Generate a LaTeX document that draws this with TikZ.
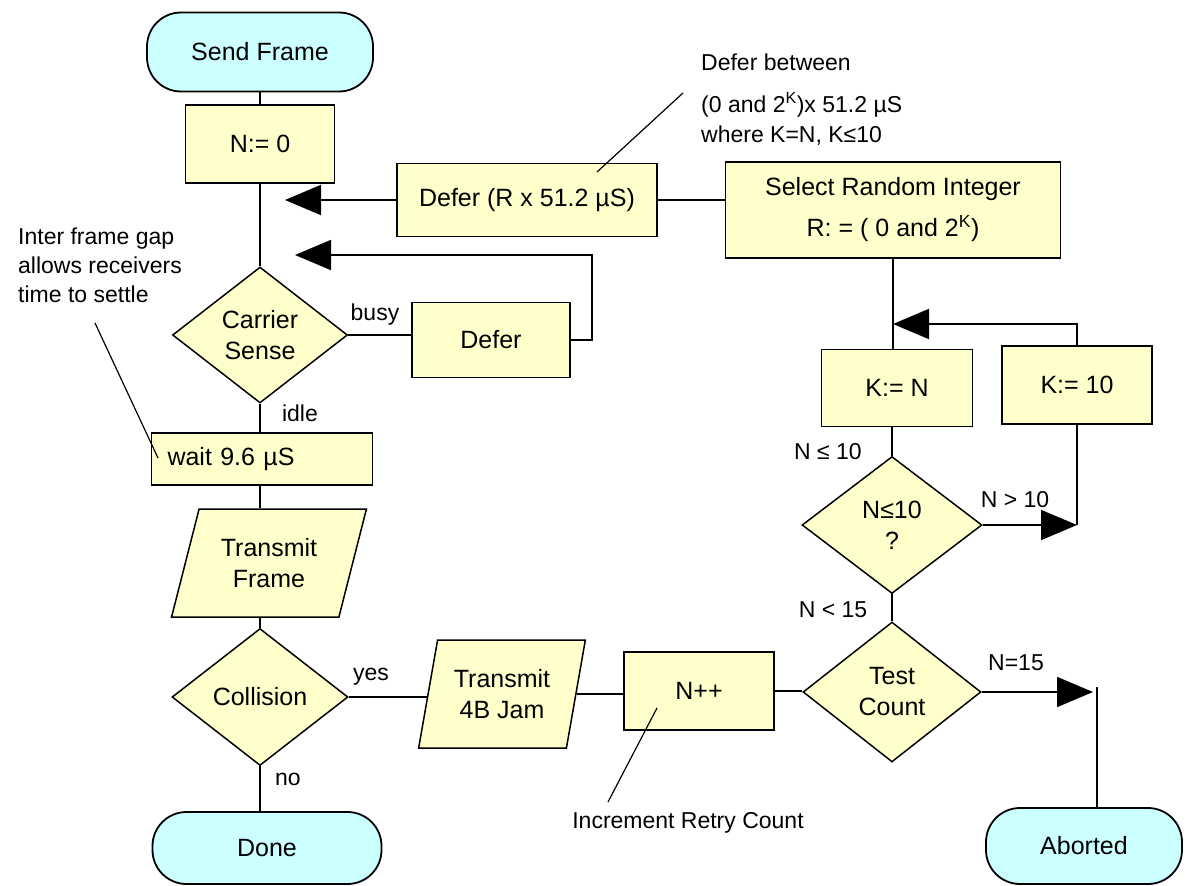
\documentclass[tikz,border=0pt]{standalone}
\usepackage{fontspec}
\setmainfont{Liberation Sans}
\usetikzlibrary{shapes.geometric,arrows.meta}
\definecolor{boxyellow}{RGB}{255,255,204}
\definecolor{termcyan}{RGB}{204,255,255}
\begin{document}
\begin{tikzpicture}[x=1pt,y=-1pt,
  every node/.style={font=\fontsize{25}{31}\selectfont, inner sep=0pt},
  procbox/.style={draw, line width=1.8pt, fill=boxyellow, align=center},
  term/.style={draw, line width=1.8pt, fill=termcyan, rounded corners=34pt, align=center},
  decision/.style={draw, line width=1.5pt, fill=boxyellow, diamond, align=center},
  io/.style={draw, line width=1.5pt, fill=boxyellow, trapezium, trapezium stretches=true, align=center},
  conn/.style={line width=1.8pt},
  arr/.style={line width=1.8pt, -{Triangle[length=36pt,width=30pt]}},
  lbl/.style={font=\fontsize{23}{28}\selectfont},
  lead/.style={line width=1.2pt},
]
\fill[white] (0,0) rectangle (1195,886);
\useasboundingbox (0,0) rectangle (1195,886);

% left column
\node[term, minimum width=226, minimum height=79] (sf) at (260,52) {Send Frame};
\node[procbox, minimum width=149, minimum height=78] (n0) at (260,144) {N:= 0};
\node[decision, minimum width=175, minimum height=136] (cs) at (260,335) {Carrier\\Sense};
\node[procbox, minimum width=221, minimum height=52, text width=189, inner xsep=16pt, align=left] (wt) at (262,459) {wait 9.6 µS};
\node[io, trapezium left angle=69, trapezium right angle=111, minimum width=195, minimum height=108] (tf) at (269,563) {Transmit\\Frame};
\node[decision, minimum width=176, minimum height=137] (col) at (260,697) {Collision};
\node[term, minimum width=229, minimum height=72] (dn) at (267,848) {Done};

% middle
\node[procbox, minimum width=260, minimum height=73] (defR) at (527,200) {Defer (R x 51.2 µS)};
\node[procbox, minimum width=158, minimum height=75] (df) at (491,340) {Defer};
\node[io, trapezium left angle=74, trapezium right angle=106, minimum width=167, minimum height=108] (jam) at (502,694) {Transmit\\4B Jam};
\node[procbox, minimum width=150, minimum height=78] (npp) at (699,691) {N++};

% right
\node[procbox, minimum width=335, minimum height=96, font=\fontsize{25}{41}\selectfont] (sel) at (893,210) {Select Random Integer\\R: = ( 0 and 2\textsuperscript{K})};
\node[procbox, minimum width=151, minimum height=77] (kn) at (897,388) {K:= N};
\node[procbox, minimum width=150, minimum height=78] (k10) at (1077,385) {K:= 10};
\node[decision, minimum width=180, minimum height=137] (nd) at (892,525) {N≤10\\?};
\node[decision, minimum width=178, minimum height=140] (tc) at (892,692) {Test\\Count};
\node[term, minimum width=196, minimum height=76] (ab) at (1084,846) {Aborted};

% labels
\node[lbl] (lbusy) at (375,315) {busy};
\node[lbl] (lidle) at (300,413) {idle};
\node[lbl] (lyes) at (371,677) {yes};
\node[lbl] (lno) at (288,779) {no};
\node[lbl] (lnle) at (828,452) {N ≤ 10};
\node[lbl] (lngt) at (1015,500) {N > 10};
\node[lbl] (lnlt) at (833,610) {N < 15};
\node[lbl] (lneq) at (1016,663) {N=15};

% annotations
\node[anchor=north west, align=left, font=\fontsize{23}{29}\selectfont] (ann1) at (18,228) {Inter frame gap\\allows receivers\\time to settle};
\node[anchor=north west, align=left, font=\fontsize{23}{30}\selectfont] (ann2) at (701,54) {Defer between\\[12pt](0 and 2\textsuperscript{K})x 51.2 µS\\where K=N, K≤10};
\node[lbl] (inc) at (688,823) {Increment Retry Count};

% coordinates
\coordinate (a1) at (285,200);
\coordinate (a2) at (295,255);
\coordinate (c2) at (592,255);
\coordinate (a3) at (1093,692);
\coordinate (c3) at (1097,687);
\coordinate (a4) at (893,324);
\coordinate (a5) at (1077,525);
\coordinate (l1a) at (95,323);
\coordinate (l1b) at (158,458);
\coordinate (l2a) at (683,93);
\coordinate (l2b) at (597,172);
\coordinate (l3a) at (608,802);
\coordinate (l3b) at (657,708);

% connectors
\draw[conn] (sf.south) -- (sf.south |- n0.north);
\draw[conn] (n0.south) -- (cs.north);
\draw[arr] (defR.west) -- (a1);
\draw[conn] (defR.east) -- (defR.east -| sel.west);
\draw[conn] (cs.east) -- (cs.east -| df.west);
\draw[arr] (df.east) -| (c2) -- (a2);
\draw[conn] (cs.south) -- (cs.south |- wt.north);
\draw[conn] (cs.south |- wt.south) -- (cs.south |- tf.north);
\draw[conn] (cs.south |- tf.south) -- (col.north);
\draw[conn] (col.south) -- (col.south |- dn.north);
\draw[conn] (col.east) -- (col.east -| jam.west);
\draw[conn] (jam.east) -- (jam.east -| npp.west);
\draw[conn] (npp.east) -- (npp.east -| tc.west);
\draw[arr] (tc.east) -- (a3);
\draw[conn] (c3) -- (c3 |- ab.north);
\draw[conn] (sel.south) -- (sel.south |- kn.north);
\draw[arr] (k10.north) |- (a4);
\draw[conn] (nd.north |- kn.south) -- (nd.north);
\draw[arr] (nd.east) -- (a5);
\draw[conn] (k10.south) -- (a5);
\draw[conn] (nd.south) -- (tc.north);

% leader lines
\draw[lead] (l1a) -- (l1b);
\draw[lead] (l2a) -- (l2b);
\draw[lead] (l3a) -- (l3b);
\end{tikzpicture}
\end{document}
